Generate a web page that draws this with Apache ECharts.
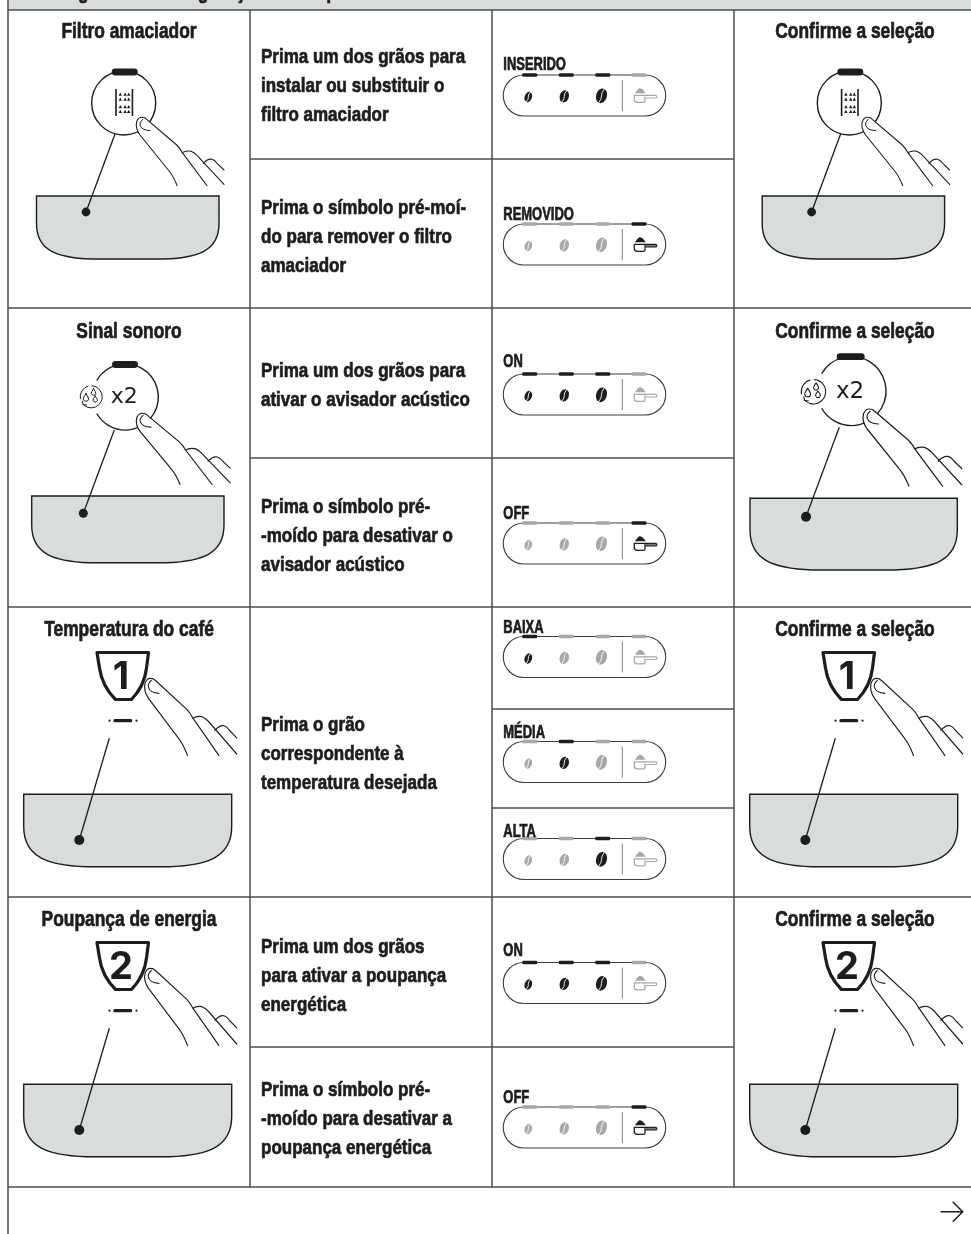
<!DOCTYPE html>
<html>
<head>
<meta charset="utf-8">
<style>html,body{margin:0;padding:0;background:#fff}#chart{width:971px;height:1234px}</style>
<script src="https://cdn.jsdelivr.net/npm/echarts@6/dist/echarts.min.js"></script>
</head>
<body>
<div id="chart"></div>
<script>
// Conteúdo da tabela
const headerTitle = 'Programar a configuração da máquina'
const rowTitles = ['Filtro amaciador', 'Sinal sonoro', 'Temperatura do café', 'Poupança de energia']
const confirmTitle = 'Confirme a seleção'
const instructions = [
  ['Prima um dos grãos para', 'instalar ou substituir o', 'filtro amaciador'],
  ['Prima o símbolo pré-moí-', 'do para remover o filtro', 'amaciador'],
  ['Prima um dos grãos para', 'ativar o avisador acústico'],
  ['Prima o símbolo pré-', '-moído para desativar o', 'avisador acústico'],
  ['Prima o grão', 'correspondente à', 'temperatura desejada'],
  ['Prima um dos grãos', 'para ativar a poupança', 'energética'],
  ['Prima o símbolo pré-', '-moído para desativar a', 'poupança energética'],
]
const panelLabels = ['INSERIDO', 'REMOVIDO', 'ON', 'OFF', 'BAIXA', 'MÉDIA', 'ALTA', 'ON', 'OFF']
// quais indicadores estão acesos em cada painel (3 grãos + pré-moído)
const panelLit = [
  [1, 1, 1, 0], [0, 0, 0, 1],
  [1, 1, 1, 0], [0, 0, 0, 1],
  [1, 0, 0, 0], [0, 1, 0, 0], [0, 0, 1, 0],
  [1, 1, 1, 0], [0, 0, 0, 1],
]

// Layout, em pixels da página
const dark = '#1d1d1b'
const dim = '#a8a8a8'
const gridLine = '#4d4d4d'
const bowlFill = '#d9dcdd'
const titleFont = 'bold 22px "Liberation Sans", sans-serif'
const bodyFont = 'bold 21px "Liberation Sans", sans-serif'
const labelFont = 'bold 18px "Liberation Sans", sans-serif'

const tableLines = [
  [8, 0, 8, 1234], [250, 10, 250, 1187], [492, 10, 492, 1187], [734, 10, 734, 1187],
  [8, 10, 971, 10], [8, 308, 971, 308], [8, 607, 971, 607], [8, 897, 971, 897], [8, 1187, 971, 1187],
  [250, 159, 734, 159], [250, 458, 734, 458], [492, 709, 734, 709], [492, 808, 734, 808], [250, 1047, 734, 1047],
]
const titleBaselines = [39, 339, 637, 927]
const instructionBaselines = [64, 215, 378, 514, 732, 954, 1097]
const panelTops = [75, 224, 374, 523, 636.5, 741.5, 838.5, 962.5, 1107]
const labelBaselines = [70, 220.5, 367, 519, 633, 738, 837, 956.5, 1103]

const illustrations = [
  { kind: 'filter', circle: [123.7, 103, 32], bar: [124.7, 72, 26], line: [115, 134, 86, 212], dot: 4.4, bowl: [36.5, 196, 219, 259], hand: [136, 117.3, 1, 1] },
  { kind: 'filter', circle: [849.3, 103, 32], bar: [850.3, 72, 26], line: [840.6, 134, 811.6, 212], dot: 4.4, bowl: [762.2, 196, 944.6, 259], hand: [861.6, 117.3, 1, 1] },
  { kind: 'drops', circle: [125.3, 397, 33], bar: [125, 364.5, 26], line: [114.3, 430, 83.3, 513.3], dot: 4.5, bowl: [31.7, 496, 224, 562.7], hand: [136, 413.3, 1.07, 1.04], icon: [91, 396.7, 1], times: [110.7, 397.3, 22] },
  { kind: 'drops', circle: [851.5, 391, 34.5], bar: [850.7, 356.7, 28], line: [839.3, 427.3, 806, 516.7], dot: 5, bowl: [750, 498.3, 957.3, 570], hand: [862.7, 409, 1.125, 1.13], icon: [813.3, 391.7, 1.1], times: [836, 391.7, 23] },
  { kind: 'cup', digit: '1', dx: 0, dy: 0 },
  { kind: 'cup', digit: '1', dx: 726, dy: 0 },
  { kind: 'cup', digit: '2', dx: 0, dy: 290 },
  { kind: 'cup', digit: '2', dx: 726, dy: 290 },
]

const stroke = (color, width) => ({ fill: 'none', stroke: color, lineWidth: width, lineCap: 'round', lineJoin: 'round' })
const pathEl = (d, style) => ({ type: 'path', shape: { pathData: d }, style })
const baselineY = (font) => parseFloat(font.match(/(\d+)px/)[1]) * 0.3

// A fonte original é condensada: o Liberation Sans é apertado na horizontal
const textEl = (text, x, baseline, font, align, sx) => ({
  type: 'text', x, y: baseline - baselineY(font), scaleX: sx || 1,
  style: { text, x: 0, y: 0, font, fill: dark, stroke: dark, lineWidth: 0.7, align: align || 'left', verticalAlign: 'middle' },
})

// Mão com o dedo a premir; origem no canto superior esquerdo do dedo
const handEl = (x, y, sx, sy) => ({
  type: 'group', x, y, scaleX: sx, scaleY: sy,
  children: [
    pathEl('M41.3 68.7Q37 58 32.3 52.7L4 17.7Q-1 11 .7 4.3Q2.5 0 5.7 0Q9 0 10.7 2L40.7 27.7Q44 31 46.3 35.3L71.3 68.7', { fill: '#fff', stroke: dark, lineWidth: 1.1 }),
    pathEl('M46.3 35.3Q50 33 55 34Q58 35 61 38L88 67', stroke(dark, 1.1)),
    pathEl('M67.3 46Q72 41 76 42Q79 43 81 46L88 52.7', stroke(dark, 1.1)),
    pathEl('M6.7 2Q3 5 4 8Q5.5 13 14 13.3', stroke(dark, 1)),
  ],
})

const bowlEl = ([x0, y0, x1, y1]) => {
  const w = x1 - x0
  const h = y1 - y0
  const d = `M${x0} ${y0}H${x1}V${y0 + 0.44 * h}C${x1} ${y0 + 0.86 * h} ${x1 - 0.11 * w} ${y1 - 0.02 * h} ${x1 - 0.3 * w} ${y1}` +
    `H${x0 + 0.3 * w}C${x0 + 0.11 * w} ${y1 - 0.02 * h} ${x0} ${y0 + 0.86 * h} ${x0} ${y0 + 0.44 * h}Z`
  return pathEl(d, { fill: bowlFill, stroke: dark, lineWidth: 1.4 })
}

const leader = ([x1, y1, x2, y2], r) => [
  { type: 'line', shape: { x1, y1, x2, y2 }, style: { stroke: dark, lineWidth: 1.3 } },
  { type: 'circle', shape: { cx: x2, cy: y2, r }, style: { fill: dark } },
]

const barEl = ([cx, cy, w]) => ({ type: 'rect', shape: { x: cx - w / 2, y: cy - 3.4, width: w, height: 6.8, r: 3.4 }, style: { fill: dark } })

// Ícone do filtro: duas barras com triângulos entre elas
const filterIcon = (cx, cy) => {
  const kids = [
    { type: 'rect', shape: { x: cx - 8.7, y: cy - 14, width: 1.6, height: 27 }, style: { fill: dark } },
    { type: 'rect', shape: { x: cx + 7.7, y: cy - 14, width: 1.6, height: 27 }, style: { fill: dark } },
  ]
  ;[-9.5, -4.5, 3, 7.8].forEach((oy) => {
    ;[-3.6, 1.2, 4.8].forEach((ox) => {
      const tx = cx + ox
      const ty = cy + oy
      kids.push({ type: 'polygon', shape: { points: [[tx - 1.7, ty + 2.2], [tx + 1.7, ty + 2.2], [tx, ty - 1]] }, style: { fill: dark } })
    })
  })
  return kids
}

// Ícone de gotas com seta circular
const dropsIcon = (cx, cy, s) => ({
  type: 'group', x: cx, y: cy, scaleX: s, scaleY: s,
  children: [
    pathEl('M-10.7 2A11 11 0 0 1 -3 -10.6', stroke(dark, 1)),
    pathEl('M1 -11A11 11 0 0 1 10 5A11 11 0 0 1 -3 10.7A11 11 0 0 1 -8 7.5', stroke(dark, 1)),
    pathEl('M-8.6 4.5L-8 8L-4.5 8.2', stroke(dark, 1)),
    pathEl('M-5 -3Q-8 1 -7.8 2.4Q-7.2 4.6 -5 4.6Q-2.8 4.6 -2.4 2.4Q-2.4 1 -5 -3Z', stroke(dark, 1)),
    pathEl('M2.5 -8Q0 -4.5 .3 -3.2Q.9 -1.4 2.5 -1.4Q4.3 -1.4 4.8 -3.2Q4.9 -4.5 2.5 -8Z', stroke(dark, 1)),
    pathEl('M4.2 -.6Q1.8 2.4 2.1 3.6Q2.6 5.4 4.2 5.4Q6 5.4 6.5 3.6Q6.5 2.4 4.2 -.6Z', stroke(dark, 1)),
  ],
})

// Ilustração com a chávena numerada
const cupGroup = (digit, dx, dy) => ({
  type: 'group', x: dx, y: dy,
  children: [
    bowlEl([23.7, 794.3, 231.7, 866.7]),
    ...leader([109.3, 738.3, 79.3, 840], 5),
    pathEl('M97 652.5H148.5L146.5 668Q144.5 686 131.5 699.5H115.5Q102 686 99.5 668Z', { fill: '#fff', stroke: dark, lineWidth: 3.2, lineJoin: 'round' }),
    { type: 'text', x: 121, y: 677.5, style: { text: digit, x: 0, y: 0, font: 'bold 38px Inter, "Liberation Sans", sans-serif', fill: dark, align: 'center', verticalAlign: 'middle' } },
    { type: 'rect', shape: { x: 113.3, y: 719.1, width: 19, height: 3.2, r: 1.6 }, style: { fill: dark } },
    { type: 'circle', shape: { cx: 109.5, cy: 720.7, r: 1.1 }, style: { fill: dark } },
    { type: 'circle', shape: { cx: 136.5, cy: 720.7, r: 1.1 }, style: { fill: dark } },
    handEl(144.3, 678.3, 1.05, 1.13),
  ],
})

const roundGroup = (ill) => {
  const [cx, cy, r] = ill.circle
  const kids = [bowlEl(ill.bowl), ...leader(ill.line, ill.dot)]
  if (ill.kind === 'filter') {
    kids.push({ type: 'circle', shape: { cx, cy, r }, style: { fill: '#fff', stroke: dark, lineWidth: 1.4 } })
    kids.push(...filterIcon(cx + 0.2, cy))
  } else {
    // círculo aberto do lado do ícone
    const gap = Math.PI / 6
    kids.push({ type: 'arc', shape: { cx, cy, r, startAngle: Math.PI + gap, endAngle: Math.PI - gap, clockwise: true }, style: { fill: 'none', stroke: dark, lineWidth: 1.4 } })
    kids.push(dropsIcon(ill.icon[0], ill.icon[1], ill.icon[2]))
    kids.push({ type: 'text', x: ill.times[0], y: ill.times[1], style: { text: 'x2', x: 0, y: 0, font: ill.times[2] + 'px "DejaVu Sans", sans-serif', fill: dark, align: 'left', verticalAlign: 'middle' } })
  }
  kids.push(barEl(ill.bar))
  kids.push(handEl(...ill.hand))
  return { type: 'group', children: kids }
}

const beanEl = (x, y, w, h, color) => ({
  type: 'group', x, y, rotation: -0.3,
  children: [
    pathEl(`M0 ${-h / 2}A${w / 2} ${h / 2} 0 1 1 0 ${h / 2}A${w / 2} ${h / 2} 0 1 1 0 ${-h / 2}Z`, { fill: color }),
    pathEl(`M.6 ${-h / 2}Q-1.2 ${-h / 6} 0 0Q1.2 ${h / 6} -.6 ${h / 2}`, stroke('#fff', 0.8)),
  ],
})

const scoopEl = (color, on) => ({
  type: 'group',
  children: [
    { type: 'polygon', shape: { points: [[131.5, 18.3], [142.5, 18.3], [139.5, 14.5], [136.5, 13], [134.5, 14.5]] }, style: { fill: color } },
    pathEl('M131 20.3H141.7V26Q141.7 27.3 140 27.3H134Q131 27.3 131 24.5Z', { fill: '#fff', stroke: color, lineWidth: 1.3 }),
    pathEl('M141.7 20.4H152Q153.6 20.4 153.6 21.7Q153.6 23 152 23H141.7', { fill: on ? '#777' : '#fff', stroke: color, lineWidth: 1.1 }),
  ],
})

const panelGroup = (lit) => {
  const beanSizes = [[25, 22, 7.4, 10.6], [61, 21.4, 9.2, 12.4], [98.2, 20.8, 10.8, 15]]
  const ledX = [26.4, 63, 99.4, 135.7]
  const kids = [
    { type: 'rect', shape: { x: 0, y: 0, width: 162.4, height: 41, r: 20.5 }, style: { fill: '#fff', stroke: '#3c3c3b', lineWidth: 1.1 } },
    { type: 'line', shape: { x1: 119, y1: 5, x2: 119, y2: 36 }, style: { stroke: '#7f7f7f', lineWidth: 1 } },
  ]
  beanSizes.forEach((b, i) => kids.push(beanEl(b[0], b[1], b[2], b[3], lit[i] ? dark : dim)))
  kids.push(scoopEl(lit[3] ? dark : dim, lit[3]))
  ledX.forEach((x, i) => {
    kids.push({ type: 'rect', shape: { x: x - 7.5, y: -1.8, width: 15, height: 3.6, r: 1.4 }, style: { fill: lit[i] ? dark : dim } })
  })
  return kids
}

const chart = echarts.init(document.getElementById('chart'))
chart.setOption({
  animation: false,
  backgroundColor: '#fff',
  grid: { left: 0, right: 0, top: 0, bottom: 0 },
  xAxis: { type: 'value', min: 0, max: 971, show: false },
  yAxis: { type: 'value', min: 0, max: 1234, inverse: true, show: false },
  series: [
    {
      // cabeçalho cinzento, cortado pela página
      type: 'custom', silent: true, z: 1,
      data: [[8, 0]],
      renderItem: (params, api) => {
        const p = api.coord([api.value(0), api.value(1)])
        return {
          type: 'group', x: p[0], y: p[1],
          children: [
            { type: 'rect', shape: { x: 0, y: 0, width: 963, height: 10 }, style: { fill: bowlFill } },
            textEl(headerTitle, 41, -1, titleFont, 'left', 0.79),
          ],
        }
      },
    },
    {
      type: 'custom', silent: true, z: 2,
      data: tableLines,
      renderItem: (params, api) => {
        const a = api.coord([api.value(0), api.value(1)])
        const b = api.coord([api.value(2), api.value(3)])
        return { type: 'line', shape: { x1: a[0], y1: a[1], x2: b[0], y2: b[1] }, style: { stroke: gridLine, lineWidth: 1.5 } }
      },
    },
    {
      type: 'custom', silent: true, z: 3,
      data: rowTitles.map((t, i) => [129, titleBaselines[i], i]),
      renderItem: (params, api) => {
        const i = api.value(2)
        const a = api.coord([api.value(0), api.value(1)])
        const b = api.coord([855, api.value(1)])
        return {
          type: 'group',
          children: [textEl(rowTitles[i], a[0], a[1], titleFont, 'center', 0.79), textEl(confirmTitle, b[0], b[1], titleFont, 'center', 0.79)],
        }
      },
    },
    {
      type: 'custom', silent: true, z: 3,
      data: instructions.map((t, i) => [261, instructionBaselines[i], i]),
      renderItem: (params, api) => {
        const lines = instructions[api.value(2)]
        const p = api.coord([api.value(0), api.value(1)])
        return { type: 'group', children: lines.map((t, n) => textEl(t, p[0], p[1] + n * 29, bodyFont, 'left', 0.81)) }
      },
    },
    {
      type: 'custom', silent: true, z: 3,
      data: panelLabels.map((t, i) => [503.3, panelTops[i], labelBaselines[i], i]),
      renderItem: (params, api) => {
        const i = api.value(3)
        const p = api.coord([api.value(0), api.value(1)])
        const l = api.coord([api.value(0), api.value(2)])
        return {
          type: 'group',
          children: [
            { type: 'group', x: p[0], y: p[1], children: panelGroup(panelLit[i]) },
            textEl(panelLabels[i], l[0], l[1], labelFont, 'left', 0.72),
          ],
        }
      },
    },
    {
      type: 'custom', silent: true, z: 3,
      data: illustrations.map((ill, i) => [0, 0, i]),
      renderItem: (params, api) => {
        const ill = illustrations[api.value(2)]
        return ill.kind === 'cup' ? cupGroup(ill.digit, ill.dx, ill.dy) : roundGroup(ill)
      },
    },
    {
      // seta de continuação
      type: 'custom', silent: true, z: 3,
      data: [[962.7, 1211.7]],
      renderItem: (params, api) => {
        const p = api.coord([api.value(0), api.value(1)])
        return pathEl(`M${p[0] - 22} ${p[1]}H${p[0]}M${p[0] - 10} ${p[1] - 10}L${p[0]} ${p[1]}L${p[0] - 10} ${p[1] + 10}`, { fill: 'none', stroke: dark, lineWidth: 1.5 })
      },
    },
  ],
})
</script>
</body>
</html>
